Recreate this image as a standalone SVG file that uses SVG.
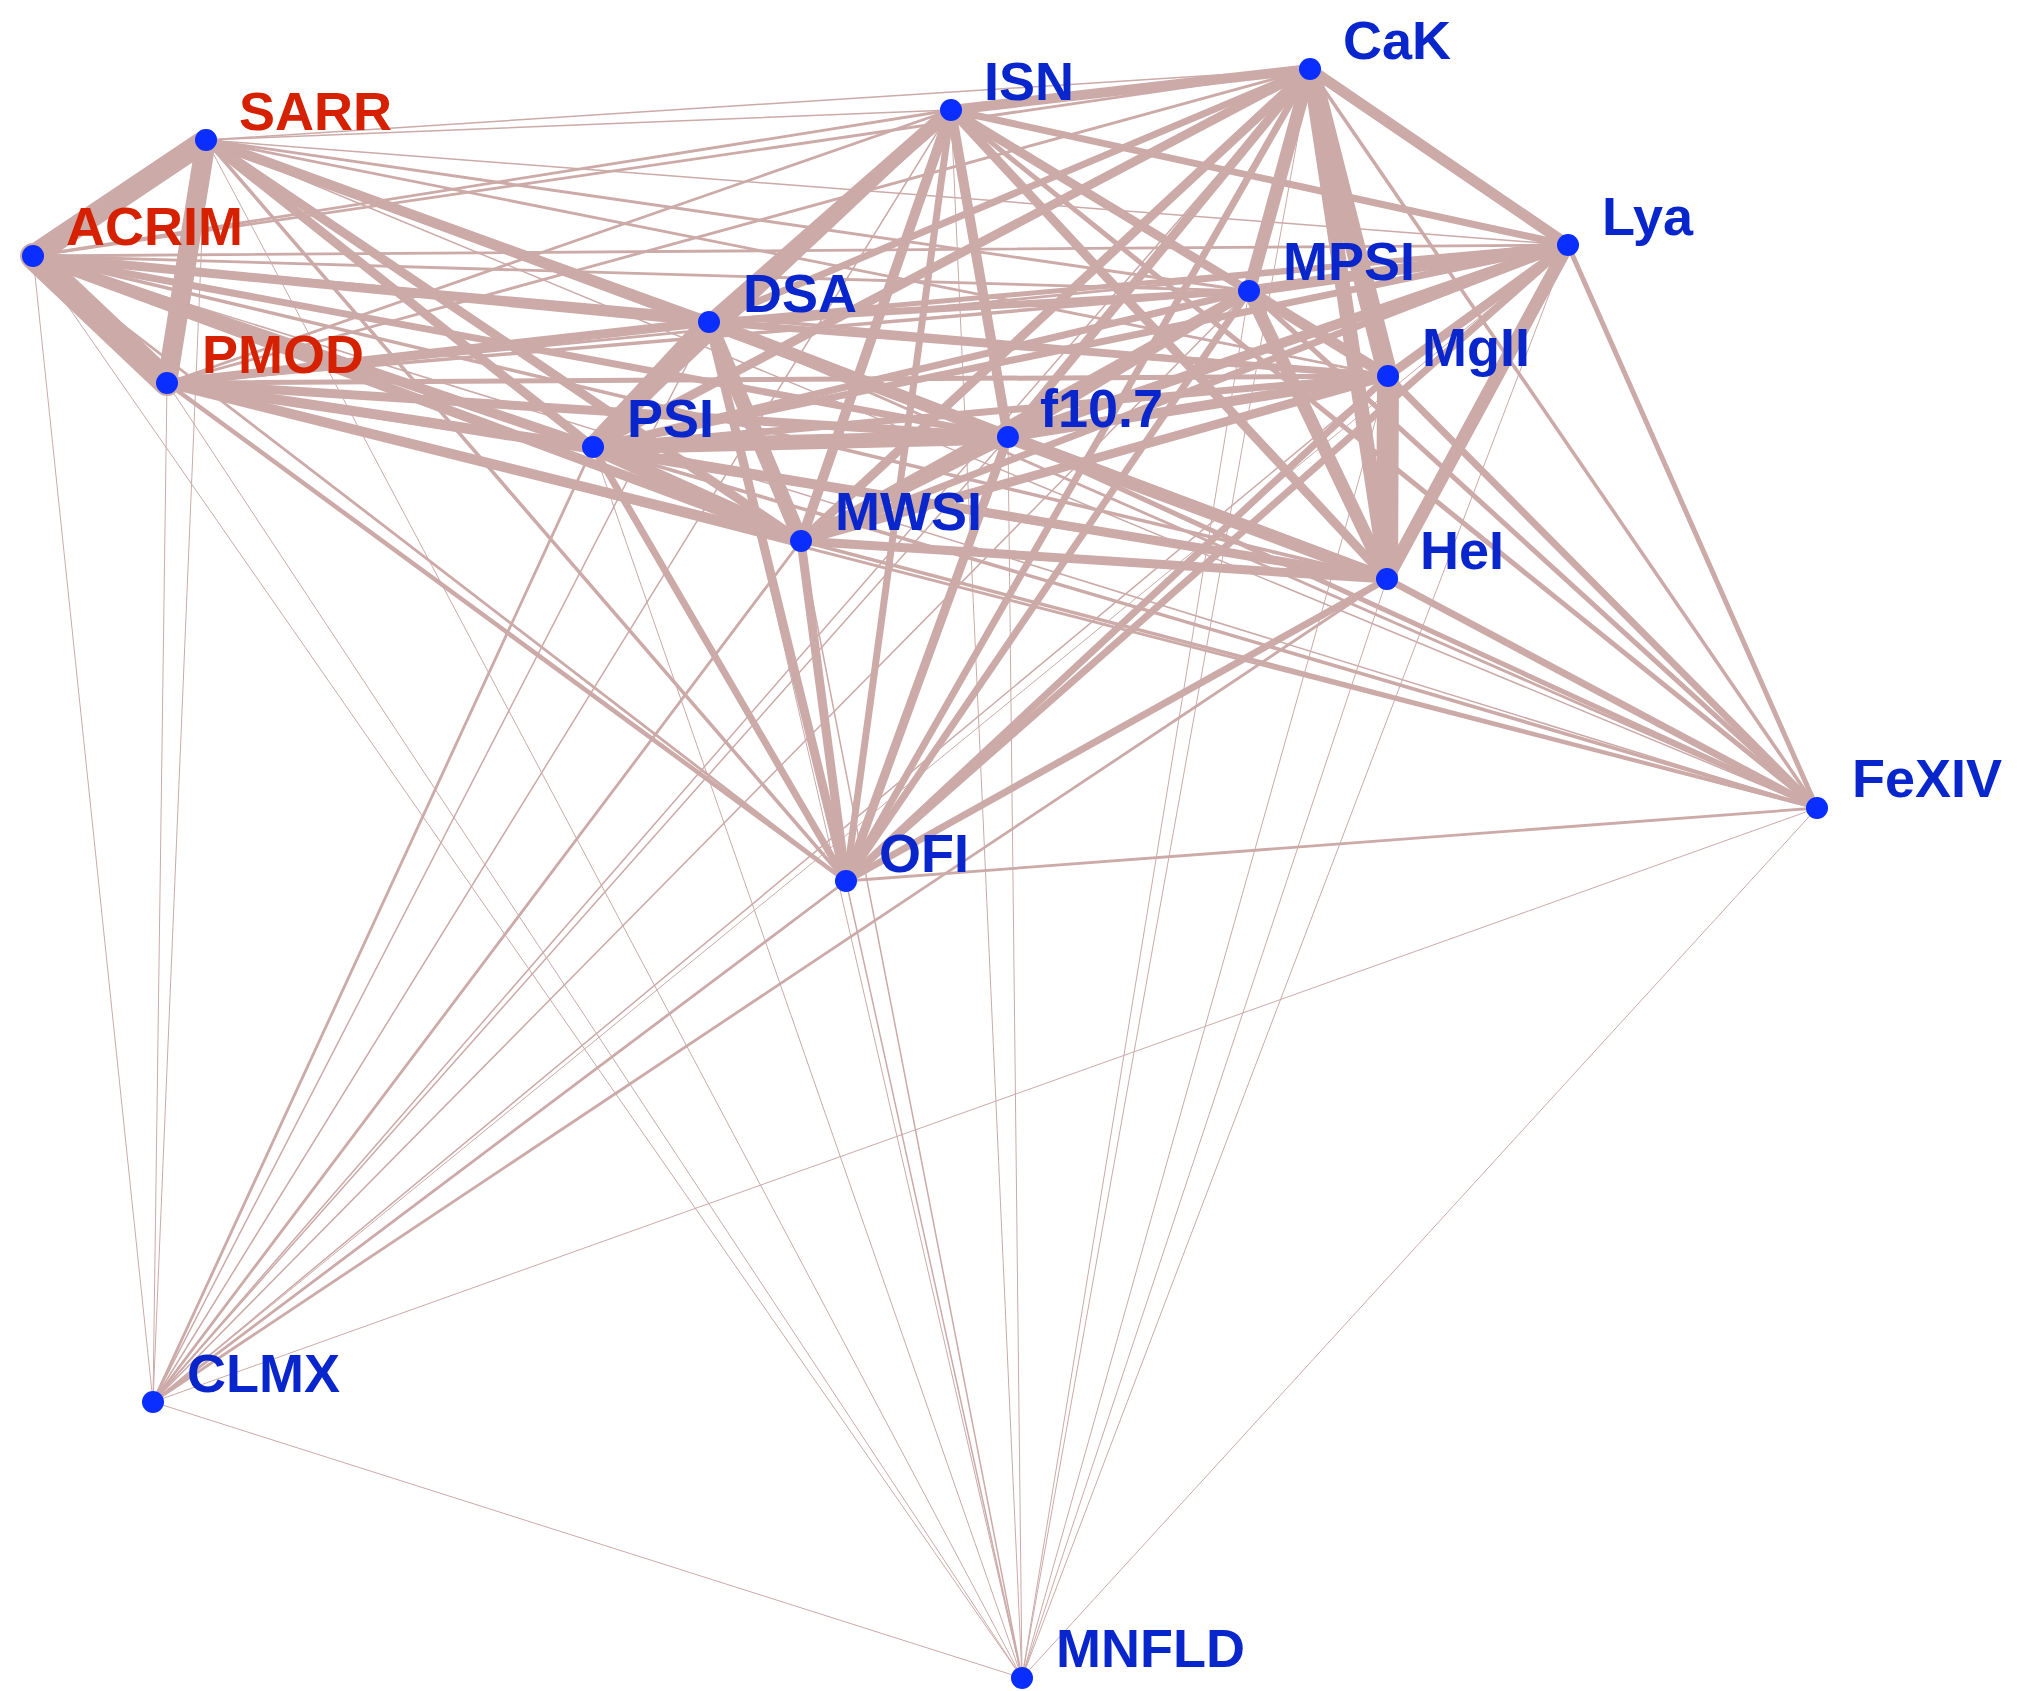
<svg xmlns="http://www.w3.org/2000/svg" width="2022" height="1691" viewBox="0 0 2022 1691">
<style>
.e line{stroke:#cbaaa8;stroke-linecap:round}
.dot{fill:#0a2eff}
.lb{font-family:"Liberation Sans",Arial,sans-serif;font-weight:bold;font-size:54px;fill:#0826cc}
.red{fill:#d62100}
</style>
<rect width="2022" height="1691" fill="#ffffff"/>
<g id="connectors" class="e">
<line x1="206" y1="140" x2="33" y2="256" stroke-width="22"/>
<line x1="206" y1="140" x2="167" y2="383" stroke-width="20"/>
<line x1="33" y1="256" x2="167" y2="383" stroke-width="26"/>
<line x1="206" y1="140" x2="951" y2="110" stroke-width="1.5"/>
<line x1="206" y1="140" x2="1310" y2="69" stroke-width="1.5"/>
<line x1="206" y1="140" x2="1568" y2="245" stroke-width="1.5"/>
<line x1="206" y1="140" x2="709" y2="322" stroke-width="10"/>
<line x1="206" y1="140" x2="593" y2="447" stroke-width="9"/>
<line x1="206" y1="140" x2="1249" y2="291" stroke-width="2.8"/>
<line x1="206" y1="140" x2="1388" y2="376" stroke-width="2.8"/>
<line x1="206" y1="140" x2="1008" y2="437" stroke-width="7"/>
<line x1="206" y1="140" x2="801" y2="541" stroke-width="9"/>
<line x1="206" y1="140" x2="1387" y2="579" stroke-width="2.8"/>
<line x1="206" y1="140" x2="1817" y2="808" stroke-width="1.5"/>
<line x1="206" y1="140" x2="846" y2="881" stroke-width="3.5"/>
<line x1="206" y1="140" x2="153" y2="1402" stroke-width="1"/>
<line x1="206" y1="140" x2="1022" y2="1678" stroke-width="1"/>
<line x1="33" y1="256" x2="951" y2="110" stroke-width="2.8"/>
<line x1="33" y1="256" x2="1310" y2="69" stroke-width="2.8"/>
<line x1="33" y1="256" x2="1568" y2="245" stroke-width="2.8"/>
<line x1="33" y1="256" x2="709" y2="322" stroke-width="9"/>
<line x1="33" y1="256" x2="593" y2="447" stroke-width="10"/>
<line x1="33" y1="256" x2="1249" y2="291" stroke-width="2.8"/>
<line x1="33" y1="256" x2="1388" y2="376" stroke-width="3.5"/>
<line x1="33" y1="256" x2="1008" y2="437" stroke-width="7"/>
<line x1="33" y1="256" x2="801" y2="541" stroke-width="10"/>
<line x1="33" y1="256" x2="1387" y2="579" stroke-width="3.5"/>
<line x1="33" y1="256" x2="1817" y2="808" stroke-width="1.5"/>
<line x1="33" y1="256" x2="846" y2="881" stroke-width="2.8"/>
<line x1="33" y1="256" x2="153" y2="1402" stroke-width="1"/>
<line x1="33" y1="256" x2="1022" y2="1678" stroke-width="1"/>
<line x1="167" y1="383" x2="951" y2="110" stroke-width="2.8"/>
<line x1="167" y1="383" x2="1310" y2="69" stroke-width="2.8"/>
<line x1="167" y1="383" x2="1568" y2="245" stroke-width="2.8"/>
<line x1="167" y1="383" x2="709" y2="322" stroke-width="9"/>
<line x1="167" y1="383" x2="593" y2="447" stroke-width="10"/>
<line x1="167" y1="383" x2="1249" y2="291" stroke-width="3.5"/>
<line x1="167" y1="383" x2="1388" y2="376" stroke-width="5"/>
<line x1="167" y1="383" x2="1008" y2="437" stroke-width="9"/>
<line x1="167" y1="383" x2="801" y2="541" stroke-width="10"/>
<line x1="167" y1="383" x2="1387" y2="579" stroke-width="5"/>
<line x1="167" y1="383" x2="1817" y2="808" stroke-width="2.8"/>
<line x1="167" y1="383" x2="846" y2="881" stroke-width="4.5"/>
<line x1="167" y1="383" x2="153" y2="1402" stroke-width="1"/>
<line x1="167" y1="383" x2="1022" y2="1678" stroke-width="1"/>
<line x1="951" y1="110" x2="1310" y2="69" stroke-width="10"/>
<line x1="951" y1="110" x2="1568" y2="245" stroke-width="7"/>
<line x1="951" y1="110" x2="709" y2="322" stroke-width="14"/>
<line x1="951" y1="110" x2="593" y2="447" stroke-width="9"/>
<line x1="951" y1="110" x2="1249" y2="291" stroke-width="9"/>
<line x1="951" y1="110" x2="1388" y2="376" stroke-width="7"/>
<line x1="951" y1="110" x2="1008" y2="437" stroke-width="10"/>
<line x1="951" y1="110" x2="801" y2="541" stroke-width="10"/>
<line x1="951" y1="110" x2="1387" y2="579" stroke-width="9"/>
<line x1="951" y1="110" x2="1817" y2="808" stroke-width="5"/>
<line x1="951" y1="110" x2="846" y2="881" stroke-width="7"/>
<line x1="951" y1="110" x2="153" y2="1402" stroke-width="1.5"/>
<line x1="951" y1="110" x2="1022" y2="1678" stroke-width="1"/>
<line x1="1310" y1="69" x2="1568" y2="245" stroke-width="11"/>
<line x1="1310" y1="69" x2="709" y2="322" stroke-width="7"/>
<line x1="1310" y1="69" x2="593" y2="447" stroke-width="9"/>
<line x1="1310" y1="69" x2="1249" y2="291" stroke-width="13"/>
<line x1="1310" y1="69" x2="1388" y2="376" stroke-width="20"/>
<line x1="1310" y1="69" x2="1008" y2="437" stroke-width="9"/>
<line x1="1310" y1="69" x2="801" y2="541" stroke-width="9"/>
<line x1="1310" y1="69" x2="1387" y2="579" stroke-width="15"/>
<line x1="1310" y1="69" x2="1817" y2="808" stroke-width="3.5"/>
<line x1="1310" y1="69" x2="846" y2="881" stroke-width="7"/>
<line x1="1310" y1="69" x2="153" y2="1402" stroke-width="1.5"/>
<line x1="1310" y1="69" x2="1022" y2="1678" stroke-width="1"/>
<line x1="1568" y1="245" x2="709" y2="322" stroke-width="5"/>
<line x1="1568" y1="245" x2="593" y2="447" stroke-width="7"/>
<line x1="1568" y1="245" x2="1249" y2="291" stroke-width="11"/>
<line x1="1568" y1="245" x2="1388" y2="376" stroke-width="9"/>
<line x1="1568" y1="245" x2="1008" y2="437" stroke-width="10"/>
<line x1="1568" y1="245" x2="801" y2="541" stroke-width="7"/>
<line x1="1568" y1="245" x2="1387" y2="579" stroke-width="13"/>
<line x1="1568" y1="245" x2="1817" y2="808" stroke-width="5"/>
<line x1="1568" y1="245" x2="846" y2="881" stroke-width="7"/>
<line x1="1568" y1="245" x2="153" y2="1402" stroke-width="1"/>
<line x1="1568" y1="245" x2="1022" y2="1678" stroke-width="1"/>
<line x1="709" y1="322" x2="593" y2="447" stroke-width="20"/>
<line x1="709" y1="322" x2="1249" y2="291" stroke-width="7"/>
<line x1="709" y1="322" x2="1388" y2="376" stroke-width="7"/>
<line x1="709" y1="322" x2="1008" y2="437" stroke-width="13"/>
<line x1="709" y1="322" x2="801" y2="541" stroke-width="15"/>
<line x1="709" y1="322" x2="1387" y2="579" stroke-width="9"/>
<line x1="709" y1="322" x2="1817" y2="808" stroke-width="2.8"/>
<line x1="709" y1="322" x2="846" y2="881" stroke-width="9"/>
<line x1="709" y1="322" x2="153" y2="1402" stroke-width="1.5"/>
<line x1="709" y1="322" x2="1022" y2="1678" stroke-width="1"/>
<line x1="593" y1="447" x2="1249" y2="291" stroke-width="7"/>
<line x1="593" y1="447" x2="1388" y2="376" stroke-width="7"/>
<line x1="593" y1="447" x2="1008" y2="437" stroke-width="15"/>
<line x1="593" y1="447" x2="801" y2="541" stroke-width="15"/>
<line x1="593" y1="447" x2="1387" y2="579" stroke-width="9"/>
<line x1="593" y1="447" x2="1817" y2="808" stroke-width="3.5"/>
<line x1="593" y1="447" x2="846" y2="881" stroke-width="7"/>
<line x1="593" y1="447" x2="153" y2="1402" stroke-width="2.8"/>
<line x1="593" y1="447" x2="1022" y2="1678" stroke-width="1"/>
<line x1="1249" y1="291" x2="1388" y2="376" stroke-width="11"/>
<line x1="1249" y1="291" x2="1008" y2="437" stroke-width="10"/>
<line x1="1249" y1="291" x2="801" y2="541" stroke-width="9"/>
<line x1="1249" y1="291" x2="1387" y2="579" stroke-width="13"/>
<line x1="1249" y1="291" x2="1817" y2="808" stroke-width="5"/>
<line x1="1249" y1="291" x2="846" y2="881" stroke-width="7"/>
<line x1="1249" y1="291" x2="153" y2="1402" stroke-width="1.5"/>
<line x1="1249" y1="291" x2="1022" y2="1678" stroke-width="1"/>
<line x1="1388" y1="376" x2="1008" y2="437" stroke-width="10"/>
<line x1="1388" y1="376" x2="801" y2="541" stroke-width="9"/>
<line x1="1388" y1="376" x2="1387" y2="579" stroke-width="22"/>
<line x1="1388" y1="376" x2="1817" y2="808" stroke-width="7"/>
<line x1="1388" y1="376" x2="846" y2="881" stroke-width="7"/>
<line x1="1388" y1="376" x2="153" y2="1402" stroke-width="1.5"/>
<line x1="1388" y1="376" x2="1022" y2="1678" stroke-width="1"/>
<line x1="1008" y1="437" x2="801" y2="541" stroke-width="10"/>
<line x1="1008" y1="437" x2="1387" y2="579" stroke-width="13"/>
<line x1="1008" y1="437" x2="1817" y2="808" stroke-width="5"/>
<line x1="1008" y1="437" x2="846" y2="881" stroke-width="9"/>
<line x1="1008" y1="437" x2="153" y2="1402" stroke-width="1.5"/>
<line x1="1008" y1="437" x2="1022" y2="1678" stroke-width="1"/>
<line x1="801" y1="541" x2="1387" y2="579" stroke-width="9"/>
<line x1="801" y1="541" x2="1817" y2="808" stroke-width="3.5"/>
<line x1="801" y1="541" x2="846" y2="881" stroke-width="9"/>
<line x1="801" y1="541" x2="153" y2="1402" stroke-width="2.8"/>
<line x1="801" y1="541" x2="1022" y2="1678" stroke-width="1.5"/>
<line x1="1387" y1="579" x2="1817" y2="808" stroke-width="7"/>
<line x1="1387" y1="579" x2="846" y2="881" stroke-width="7"/>
<line x1="1387" y1="579" x2="153" y2="1402" stroke-width="2.8"/>
<line x1="1387" y1="579" x2="1022" y2="1678" stroke-width="1"/>
<line x1="1817" y1="808" x2="846" y2="881" stroke-width="2.8"/>
<line x1="1817" y1="808" x2="153" y2="1402" stroke-width="1"/>
<line x1="1817" y1="808" x2="1022" y2="1678" stroke-width="1"/>
<line x1="846" y1="881" x2="153" y2="1402" stroke-width="2.8"/>
<line x1="846" y1="881" x2="1022" y2="1678" stroke-width="1.5"/>
<line x1="153" y1="1402" x2="1022" y2="1678" stroke-width="1"/>
</g>
<g id="node-SARR"><circle class="dot" cx="206" cy="140" r="11"/><text class="lb red" x="239" y="130">SARR</text></g>
<g id="node-ACRIM"><circle class="dot" cx="33" cy="256" r="11"/><text class="lb red" x="66" y="245">ACRIM</text></g>
<g id="node-PMOD"><circle class="dot" cx="167" cy="383" r="11"/><text class="lb red" x="202" y="373">PMOD</text></g>
<g id="node-ISN"><circle class="dot" cx="951" cy="110" r="11"/><text class="lb" x="984" y="100">ISN</text></g>
<g id="node-CaK"><circle class="dot" cx="1310" cy="69" r="11"/><text class="lb" x="1343" y="59">CaK</text></g>
<g id="node-Lya"><circle class="dot" cx="1568" cy="245" r="11"/><text class="lb" x="1602" y="235">Lya</text></g>
<g id="node-DSA"><circle class="dot" cx="709" cy="322" r="11"/><text class="lb" x="743" y="312">DSA</text></g>
<g id="node-PSI"><circle class="dot" cx="593" cy="447" r="11"/><text class="lb" x="627" y="437">PSI</text></g>
<g id="node-MPSI"><circle class="dot" cx="1249" cy="291" r="11"/><text class="lb" x="1283" y="280">MPSI</text></g>
<g id="node-MgII"><circle class="dot" cx="1388" cy="376" r="11"/><text class="lb" x="1422" y="366">MgII</text></g>
<g id="node-f10.7"><circle class="dot" cx="1008" cy="437" r="11"/><text class="lb" x="1040" y="427">f10.7</text></g>
<g id="node-MWSI"><circle class="dot" cx="801" cy="541" r="11"/><text class="lb" x="835" y="530">MWSI</text></g>
<g id="node-HeI"><circle class="dot" cx="1387" cy="579" r="11"/><text class="lb" x="1420" y="569">HeI</text></g>
<g id="node-FeXIV"><circle class="dot" cx="1817" cy="808" r="11"/><text class="lb" x="1852" y="797">FeXIV</text></g>
<g id="node-OFI"><circle class="dot" cx="846" cy="881" r="11"/><text class="lb" x="879" y="872">OFI</text></g>
<g id="node-CLMX"><circle class="dot" cx="153" cy="1402" r="11"/><text class="lb" x="187" y="1392">CLMX</text></g>
<g id="node-MNFLD"><circle class="dot" cx="1022" cy="1678" r="11"/><text class="lb" x="1056" y="1667">MNFLD</text></g>
</svg>
